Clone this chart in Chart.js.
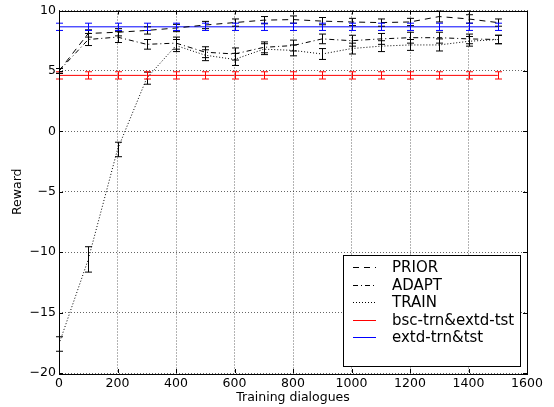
<!DOCTYPE html>
<html lang="en">
<head>
<meta charset="UTF-8">
<title>Reward vs training dialogues</title>
<script src="https://cdn.jsdelivr.net/npm/chart.js"></script>
<style>
  body { margin: 0; background: #fff; }
  canvas { display: block; }
</style>
</head>
<body>
<canvas id="reward-chart" width="554" height="407"></canvas>
<script>
// number of training dialogues
var dialogues = [0, 100, 200, 300, 400, 500, 600, 700, 800, 900, 1000, 1100, 1200, 1300, 1400, 1500];

// mean reward per condition
var prior    = [5.0, 8.1, 8.2, 8.35, 8.55, 8.8, 9.0, 9.2, 9.25, 9.12, 9.05, 9.0, 9.05, 9.5, 9.3, 9.0];
var adapt    = [5.0, 7.6, 7.8, 7.2, 7.3, 6.55, 6.4, 6.95, 7.1, 7.65, 7.5, 7.65, 7.75, 7.75, 7.65, 7.6];
var train    = [-17.6, -10.6, -1.5, 4.4, 7.1, 6.3, 5.95, 6.8, 6.7, 6.4, 6.85, 7.05, 7.15, 7.15, 7.45, 7.6];
var bscTrn   = [4.63, 4.63, 4.63, 4.63, 4.63, 4.63, 4.63, 4.63, 4.63, 4.63, 4.63, 4.63, 4.63, 4.63, 4.63, 4.63];
var extdTrn  = [8.65, 8.65, 8.65, 8.65, 8.65, 8.65, 8.65, 8.65, 8.65, 8.65, 8.65, 8.65, 8.65, 8.65, 8.65, 8.65];

// error bar half-widths
var priorErr = [0.2, 0.3, 0.3, 0.3, 0.3, 0.3, 0.3, 0.3, 0.3, 0.3, 0.3, 0.3, 0.3, 0.45, 0.35, 0.3];
var adaptErr = [0.2, 0.5, 0.45, 0.4, 0.5, 0.45, 0.5, 0.45, 0.45, 0.4, 0.45, 0.45, 0.45, 0.45, 0.4, 0.35];
var trainErr = [0.6, 1.05, 0.6, 0.5, 0.5, 0.45, 0.5, 0.45, 0.45, 0.45, 0.45, 0.45, 0.45, 0.5, 0.4, 0.35];
var bscErr   = [0.3, 0.3, 0.3, 0.3, 0.3, 0.3, 0.3, 0.3, 0.3, 0.3, 0.3, 0.3, 0.3, 0.3, 0.3, 0.3];
var extdErr  = [0.3, 0.3, 0.3, 0.3, 0.3, 0.3, 0.3, 0.3, 0.3, 0.3, 0.3, 0.3, 0.3, 0.3, 0.3, 0.3];

// axis ticks
var xTicks = [0, 200, 400, 600, 800, 1000, 1200, 1400, 1600];
var yTicks = [-20, -15, -10, -5, 0, 5, 10];

var FONT = 'DejaVu Sans';

function points(ys) {
    return dialogues.map(function (x, i) { return { x: x, y: ys[i] }; });
}

function series(label, ys, errs, color, dash) {
    return {
        label: label,
        data: points(ys),
        errors: errs,
        borderColor: color,
        backgroundColor: color,
        borderWidth: 1,
        borderDash: dash,
        pointRadius: 0,
        tension: 0,
        fill: false
    };
}

function fmt(v) {
    return v < 0 ? '\u2212' + Math.abs(v) : String(v);
}

// vertical error bars with caps
var errorBars = {
    id: 'errorBars',
    afterDatasetsDraw: function (chart) {
        var ctx = chart.ctx, xs = chart.scales.x, ys = chart.scales.y;
        ctx.save();
        ctx.lineWidth = 1;
        chart.data.datasets.forEach(function (ds) {
            ctx.strokeStyle = ds.borderColor;
            ds.data.forEach(function (p, i) {
                var e = ds.errors[i];
                var px = Math.round(xs.getPixelForValue(p.x)) + 0.5;
                var top = ys.getPixelForValue(p.y + e);
                var bot = ys.getPixelForValue(p.y - e);
                ctx.beginPath();
                ctx.moveTo(px, top); ctx.lineTo(px, bot);
                ctx.moveTo(px - 3.5, top); ctx.lineTo(px + 3.5, top);
                ctx.moveTo(px - 3.5, bot); ctx.lineTo(px + 3.5, bot);
                ctx.stroke();
            });
        });
        ctx.restore();
    }
};

// frame, inward ticks, axis titles and legend box
var decorations = {
    id: 'decorations',
    afterDraw: function (chart) {
        var ctx = chart.ctx, a = chart.chartArea;
        var xs = chart.scales.x, ys = chart.scales.y;
        ctx.save();
        ctx.strokeStyle = '#000';
        ctx.lineWidth = 1;
        ctx.strokeRect(Math.round(a.left) + 0.5, Math.round(a.top) + 0.5,
                       Math.round(a.right - a.left), Math.round(a.bottom - a.top));

        ctx.beginPath();
        xTicks.forEach(function (v) {
            var px = Math.round(xs.getPixelForValue(v)) + 0.5;
            ctx.moveTo(px, a.bottom); ctx.lineTo(px, a.bottom - 4);
            ctx.moveTo(px, a.top); ctx.lineTo(px, a.top + 4);
        });
        yTicks.forEach(function (v) {
            var py = Math.round(ys.getPixelForValue(v)) + 0.5;
            ctx.moveTo(a.left, py); ctx.lineTo(a.left + 4, py);
            ctx.moveTo(a.right, py); ctx.lineTo(a.right - 4, py);
        });
        ctx.stroke();

        ctx.fillStyle = '#000';
        ctx.font = '12.5px "' + FONT + '"';
        ctx.textAlign = 'center';
        ctx.textBaseline = 'middle';
        ctx.fillText('Training dialogues', (a.left + a.right) / 2, 398);
        ctx.save();
        ctx.translate(18, (a.top + a.bottom) / 2);
        ctx.rotate(-Math.PI / 2);
        ctx.fillText('Reward', 0, 0);
        ctx.restore();

        // legend
        var bx = 343.5, by = 255.5, bw = 177, bh = 111;
        ctx.fillStyle = '#fff';
        ctx.fillRect(bx, by, bw, bh);
        ctx.strokeStyle = '#000';
        ctx.strokeRect(bx, by, bw, bh);
        ctx.font = '15px "' + FONT + '"';
        ctx.textAlign = 'left';
        chart.data.datasets.forEach(function (ds, i) {
            var ry = Math.round(267 + i * 17.5) + 0.5;
            ctx.strokeStyle = ds.borderColor;
            ctx.setLineDash(ds.borderDash || []);
            ctx.beginPath();
            ctx.moveTo(353, ry); ctx.lineTo(376, ry);
            ctx.stroke();
            ctx.setLineDash([]);
            ctx.fillStyle = '#000';
            ctx.fillText(ds.label, 392, ry + 1);
        });
        ctx.restore();
    }
};

var ctx = document.getElementById('reward-chart').getContext('2d');
var rewardChart = new Chart(ctx, {
    type: 'line',
    data: {
        datasets: [
            series('PRIOR', prior, priorErr, '#000000', [6, 5]),
            series('ADAPT', adapt, adaptErr, '#000000', [5, 3, 1, 3]),
            series('TRAIN', train, trainErr, '#000000', [1, 2]),
            series('bsc-trn&extd-tst', bscTrn, bscErr, '#ff0000', []),
            series('extd-trn&tst', extdTrn, extdErr, '#0000ff', [])
        ]
    },
    options: {
        responsive: false,
        animation: false,
        layout: { padding: { top: 10, right: 27, left: 0, bottom: 0 } },
        plugins: {
            legend: { display: false },
            tooltip: { enabled: false }
        },
        scales: {
            x: {
                type: 'linear',
                min: 0,
                max: 1600,
                afterBuildTicks: function (s) { s.ticks = xTicks.map(function (v) { return { value: v }; }); },
                afterFit: function (s) { s.height = 34; },
                ticks: {
                    color: '#000',
                    padding: 3,
                    maxRotation: 0,
                    font: { family: FONT, size: 12.5 },
                    callback: fmt
                },
                grid: { color: 'rgba(0,0,0,0.6)', drawTicks: false, lineWidth: 1 },
                border: { display: false, dash: [1, 2] }
            },
            y: {
                min: -20,
                max: 10,
                afterBuildTicks: function (s) { s.ticks = yTicks.map(function (v) { return { value: v }; }); },
                afterFit: function (s) { s.width = 59; },
                ticks: {
                    color: '#000',
                    padding: 3,
                    font: { family: FONT, size: 12.5 },
                    callback: fmt
                },
                grid: { color: 'rgba(0,0,0,0.6)', drawTicks: false, lineWidth: 1 },
                border: { display: false, dash: [1, 2] }
            }
        }
    },
    plugins: [errorBars, decorations]
});
</script>
</body>
</html>
